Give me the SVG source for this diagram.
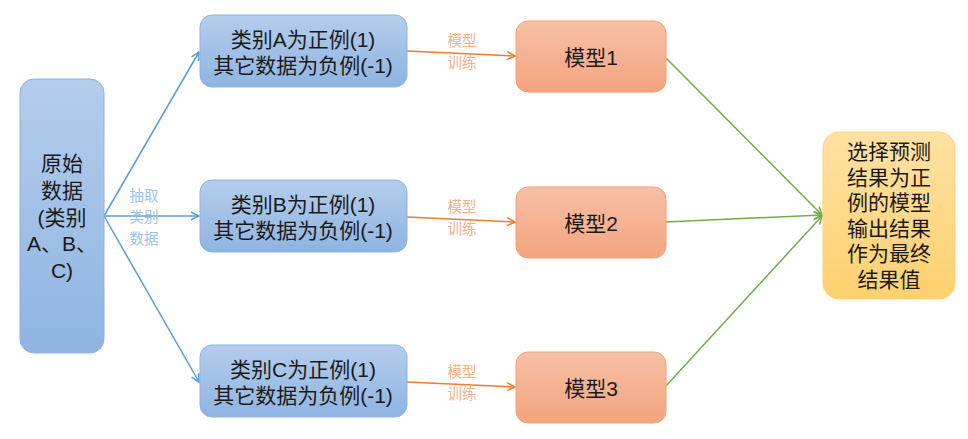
<svg xmlns="http://www.w3.org/2000/svg" width="968" height="439" viewBox="0 0 968 439">
<defs>
<linearGradient id="gBlue" x1="0" y1="0" x2="0" y2="1"><stop offset="0" stop-color="#b4cdeb"/><stop offset="1" stop-color="#8fb4e2"/></linearGradient>
<linearGradient id="gOrange" x1="0" y1="0" x2="0" y2="1"><stop offset="0" stop-color="#f7c0a6"/><stop offset="1" stop-color="#f4a47f"/></linearGradient>
<linearGradient id="gYellow" x1="0" y1="0" x2="0" y2="1"><stop offset="0" stop-color="#fee2a4"/><stop offset="1" stop-color="#fed06f"/></linearGradient>
<marker id="mBlue" markerWidth="10" markerHeight="10" refX="9" refY="5" orient="auto" markerUnits="userSpaceOnUse"><path d="M1,1 L9,5 L1,9" fill="none" stroke="#5b9bd5" stroke-width="1.5"/></marker>
<marker id="mOrange" markerWidth="10" markerHeight="10" refX="9" refY="5" orient="auto" markerUnits="userSpaceOnUse"><path d="M1,1 L9,5 L1,9" fill="none" stroke="#ed7d31" stroke-width="1.5"/></marker>
<marker id="mGreen" markerWidth="10" markerHeight="10" refX="9" refY="5" orient="auto" markerUnits="userSpaceOnUse"><path d="M1,1 L9,5 L1,9" fill="none" stroke="#70ad47" stroke-width="1.5"/></marker>
</defs>
<style>
.t{font-family:"Liberation Sans","Noto Sans CJK SC",sans-serif;font-size:21px;fill:#1a1a1a;text-anchor:middle;dominant-baseline:central}
.lb{font-family:"Noto Sans CJK SC",sans-serif;font-size:14.5px;text-anchor:middle;dominant-baseline:central}
.blue{fill:url(#gBlue);stroke:#8db3e2;stroke-width:1}
.org{fill:url(#gOrange);stroke:#f4a06e;stroke-width:1}
.yel{fill:url(#gYellow);stroke:#fdd56a;stroke-width:1}
.cb{stroke:#5b9bd5;stroke-width:1.5;fill:none;marker-end:url(#mBlue)}
.co{stroke:#ed7d31;stroke-width:1.5;fill:none;marker-end:url(#mOrange)}
.cg{stroke:#70ad47;stroke-width:1.5;fill:none;marker-end:url(#mGreen)}
</style>
<g id="connectors">
<line class="cb" x1="104" y1="216" x2="199" y2="52"/>
<line class="cb" x1="104" y1="216" x2="199" y2="216"/>
<line class="cb" x1="104" y1="216" x2="199" y2="382"/>
<line class="co" x1="407" y1="51" x2="515" y2="56"/>
<line class="co" x1="407" y1="217" x2="515" y2="222"/>
<line class="co" x1="407" y1="382" x2="515" y2="387"/>
<line class="cg" x1="665" y1="57" x2="822" y2="215"/>
<line class="cg" x1="665" y1="222" x2="822" y2="215"/>
<line class="cg" x1="665" y1="387" x2="822" y2="216"/>
<g class="lb" fill="#9dc3e6"><text x="144" y="194">抽取</text><text x="144" y="215.5">类别</text><text x="144" y="237">数据</text></g>
<g class="lb" fill="#f4b183"><text x="462" y="39.5">模型</text><text x="462" y="61.5">训练</text></g>
<g class="lb" fill="#f4b183"><text x="462" y="205">模型</text><text x="462" y="227">训练</text></g>
<g class="lb" fill="#f4b183"><text x="462" y="370">模型</text><text x="462" y="392">训练</text></g>
</g>
<g id="source">
<rect class="blue" x="20" y="79" width="84" height="274" rx="14"/>
<text class="t" x="62" y="163">原始</text>
<text class="t" x="62" y="190">数据</text>
<text class="t" x="62" y="217">(类别</text>
<text class="t" x="62" y="243">A、B、</text>
<text class="t" x="62" y="270">C)</text>
</g>
<g id="boxA">
<rect class="blue" x="200" y="15" width="207" height="72" rx="12"/>
<text class="t" x="303" y="39">类别A为正例(1)</text>
<text class="t" x="303" y="65">其它数据为负例(-1)</text>
</g>
<g id="boxB">
<rect class="blue" x="200" y="180" width="207" height="72" rx="12"/>
<text class="t" x="303" y="204">类别B为正例(1)</text>
<text class="t" x="303" y="230">其它数据为负例(-1)</text>
</g>
<g id="boxC">
<rect class="blue" x="200" y="345" width="207" height="72" rx="12"/>
<text class="t" x="303" y="369">类别C为正例(1)</text>
<text class="t" x="303" y="395">其它数据为负例(-1)</text>
</g>
<g id="model1">
<rect class="org" x="516" y="21" width="150" height="71" rx="12"/>
<text class="t" x="591" y="57">模型1</text>
</g>
<g id="model2">
<rect class="org" x="516" y="187" width="150" height="71" rx="12"/>
<text class="t" x="591" y="223">模型2</text>
</g>
<g id="model3">
<rect class="org" x="516" y="352" width="150" height="71" rx="12"/>
<text class="t" x="591" y="388">模型3</text>
</g>
<g id="result">
<rect class="yel" x="823" y="132" width="132" height="167" rx="16"/>
<text class="t" x="889" y="151">选择预测</text>
<text class="t" x="889" y="177">结果为正</text>
<text class="t" x="889" y="202">例的模型</text>
<text class="t" x="889" y="228">输出结果</text>
<text class="t" x="889" y="253">作为最终</text>
<text class="t" x="889" y="279">结果值</text>
</g>
</svg>
